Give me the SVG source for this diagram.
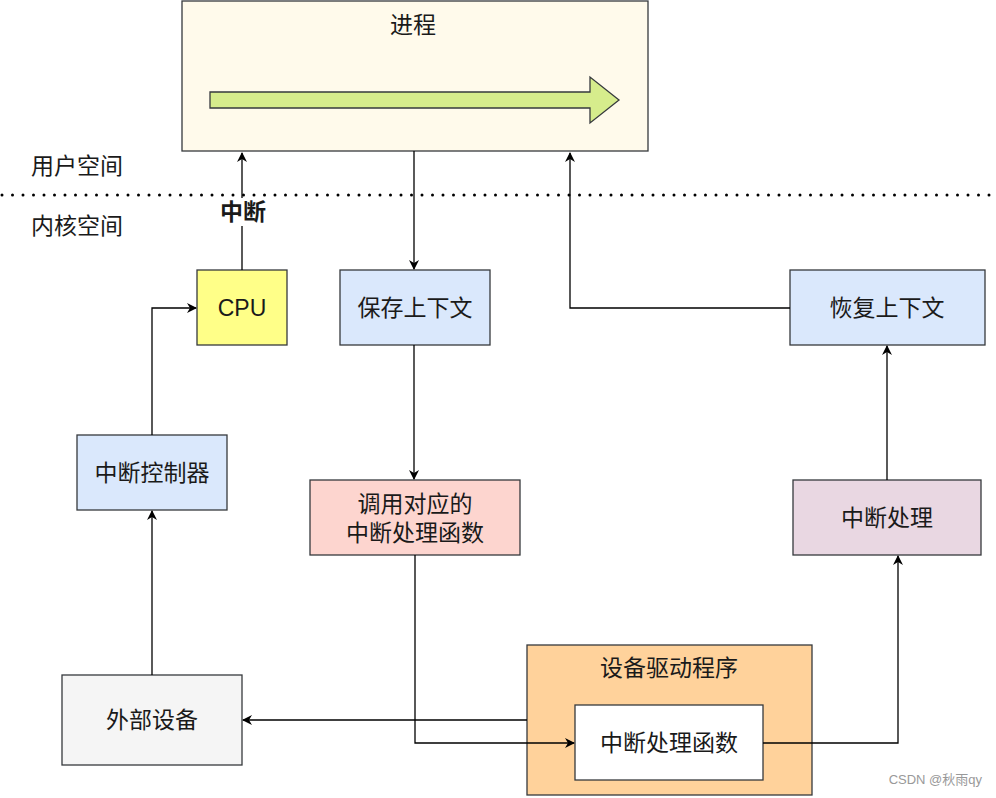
<svg xmlns="http://www.w3.org/2000/svg" width="996" height="798" viewBox="0 0 996 798">
<defs>
<style>
.n{stroke:#36393d;stroke-width:1.3}
.t{font-family:"Liberation Sans","Noto Sans CJK SC",sans-serif;font-size:23px;fill:#1a1a1a;text-anchor:middle;dominant-baseline:central}
.c{fill:none;stroke:#000;stroke-width:1.3}
</style>
<marker id="a" viewBox="0 0 10 10" refX="9" refY="5" markerWidth="10" markerHeight="10" markerUnits="userSpaceOnUse" orient="auto"><path d="M0,0 L10,5 L0,10 L3,5 Z" fill="#000"/></marker>
</defs>
<rect width="996" height="798" fill="#fff"/>
<g id="process">
<rect class="n" x="182" y="1" width="466" height="150" fill="#fffaeb"/>
<text class="t" x="413" y="25">进程</text>
<path class="n" d="M210,92 L590,92 L590,77 L619,100 L590,123 L590,108 L210,108 Z" fill="#d6ec8c"/>
</g>
<g id="space-labels">
<text class="t" x="77" y="166">用户空间</text>
<text class="t" x="77" y="226">内核空间</text>
<line x1="2" y1="195" x2="996" y2="195" stroke="#000" stroke-width="3" stroke-dasharray="0 10.5" stroke-linecap="round"/>
</g>
<g id="cpu"><rect class="n" x="197" y="270" width="90" height="75" fill="#ffff88"/><text class="t" x="242" y="308">CPU</text></g>
<g id="save"><rect class="n" x="340" y="270" width="150" height="75" fill="#dae8fc"/><text class="t" x="415" y="308">保存上下文</text></g>
<g id="restore"><rect class="n" x="790" y="270" width="195" height="75" fill="#dae8fc"/><text class="t" x="887" y="308">恢复上下文</text></g>
<g id="controller"><rect class="n" x="77" y="435" width="150" height="75" fill="#dae8fc"/><text class="t" x="152" y="473">中断控制器</text></g>
<g id="call"><rect class="n" x="310" y="480" width="210" height="75" fill="#fdd5cf"/><text class="t" x="415" y="504">调用对应的</text><text class="t" x="415" y="533">中断处理函数</text></g>
<g id="handle"><rect class="n" x="793" y="480" width="188" height="75" fill="#e9d7e2"/><text class="t" x="887" y="518">中断处理</text></g>
<g id="device"><rect class="n" x="62" y="675" width="180" height="90" fill="#f5f5f5"/><text class="t" x="152" y="720">外部设备</text></g>
<g id="driver"><rect class="n" x="527" y="645" width="285" height="150" fill="#ffd29b"/><text class="t" x="669" y="668">设备驱动程序</text></g>
<g id="isr"><rect class="n" x="575" y="705" width="188" height="75" fill="#fff"/><text class="t" x="669" y="743">中断处理函数</text></g>
<g id="connectors">
<path class="c" d="M242,270 L242,153" marker-end="url(#a)"/>
<path class="c" d="M414,151 L414,269" marker-end="url(#a)"/>
<path class="c" d="M790,308 L570,308 L570,153" marker-end="url(#a)"/>
<path class="c" d="M152,435 L152,308 L196,308" marker-end="url(#a)"/>
<path class="c" d="M414,345 L414,479" marker-end="url(#a)"/>
<path class="c" d="M415,555 L415,743 L574,743" marker-end="url(#a)"/>
<path class="c" d="M527,720 L243,720" marker-end="url(#a)"/>
<path class="c" d="M152,675 L152,511" marker-end="url(#a)"/>
<path class="c" d="M763,743 L898,743 L898,556" marker-end="url(#a)"/>
<path class="c" d="M887,480 L887,346" marker-end="url(#a)"/>
<rect x="216" y="198" width="54" height="28" fill="#fff"/>
<text class="t" x="243" y="212" style="font-weight:bold" fill="#000">中断</text>
</g>
<text x="982" y="779" style="font-family:'Liberation Sans','Noto Sans CJK SC',sans-serif;font-size:13px;fill:#999;text-anchor:end;dominant-baseline:central">CSDN @秋雨qy</text>
</svg>
